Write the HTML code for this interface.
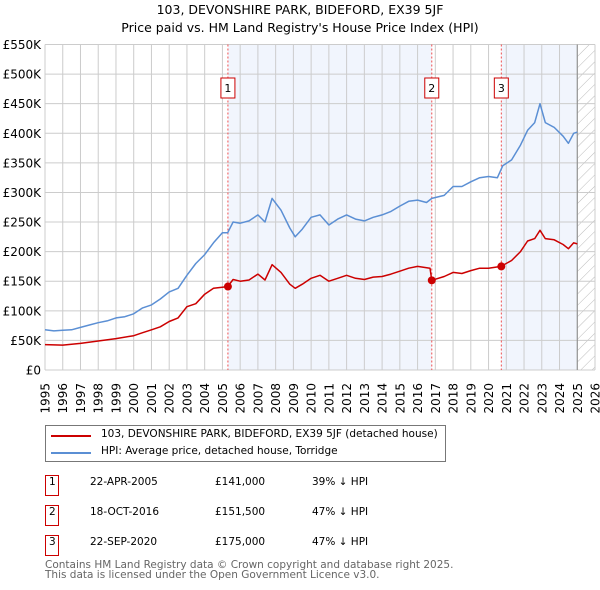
<!DOCTYPE html>
<html><head><meta charset="utf-8"><style>
body{margin:0;background:#fff;font-family:"DejaVu Sans","Liberation Sans",sans-serif;}
#wrap{position:relative;width:600px;height:590px;overflow:hidden}
.t{position:absolute;white-space:nowrap;color:#000}
</style></head><body>
<div id="wrap">
<div class="t" style="left:0;width:600px;text-align:center;top:2px;font-size:12.5px">103, DEVONSHIRE PARK, BIDEFORD, EX39 5JF</div>
<div class="t" style="left:0;width:600px;text-align:center;top:20px;font-size:12.5px">Price paid vs. HM Land Registry's House Price Index (HPI)</div>
<svg id="chart" width="600" height="420" style="position:absolute;left:0;top:0" font-family="DejaVu Sans, Liberation Sans, sans-serif"></svg>
<div style="position:absolute;left:45px;top:425px;width:399px;height:35px;border:1px solid #777">
 <div><div style="position:absolute;left:5px;top:9px;width:40px;height:2px;background:#cc0000"></div><div class="t" style="left:55px;top:2px;font-size:10.5px">103, DEVONSHIRE PARK, BIDEFORD, EX39 5JF (detached house)</div></div>
 <div><div style="position:absolute;left:5px;top:26px;width:40px;height:2px;background:#5b8fd4"></div><div class="t" style="left:55px;top:19px;font-size:10.5px">HPI: Average price, detached house, Torridge</div></div>
</div>
<div id="tbl"></div>
<div class="t" style="left:45px;top:560px;font-size:10.5px;color:#666;line-height:10px">Contains HM Land Registry data © Crown copyright and database right 2025.<br>This data is licensed under the Open Government Licence v3.0.</div>
</div>
<script>
const hpiX=[1995,1995.5,1996,1996.5,1997,1997.5,1998,1998.5,1999,1999.5,2000,2000.5,2001,2001.5,2002,2002.5,2003,2003.5,2004,2004.5,2005,2005.3,2005.6,2006,2006.5,2007,2007.4,2007.8,2008.3,2008.8,2009.1,2009.5,2010,2010.5,2011,2011.5,2012,2012.5,2013,2013.5,2014,2014.5,2015,2015.5,2016,2016.5,2016.8,2017.5,2018,2018.5,2019,2019.5,2020,2020.5,2020.8,2021.3,2021.8,2022.2,2022.6,2022.9,2023.2,2023.7,2024.2,2024.5,2024.8,2025.0];
const hpiY=[68,66,67,68,72,76,80,83,88,90,95,105,110,120,132,138,160,180,195,215,232,232,250,248,252,262,250,290,270,240,225,238,258,262,245,255,262,255,252,258,262,268,277,285,287,283,290,295,310,310,318,325,327,325,345,355,380,405,418,450,418,410,395,383,400,402];
const redX=[1995,1996,1997,1998,1999,2000,2000.5,2001,2001.5,2002,2002.5,2003,2003.5,2004,2004.5,2005.3,2005.6,2006,2006.5,2007,2007.4,2007.8,2008.3,2008.8,2009.1,2009.5,2010,2010.5,2011,2011.5,2012,2012.5,2013,2013.5,2014,2014.5,2015,2015.5,2016,2016.7,2016.8,2017.5,2018,2018.5,2019,2019.5,2020,2020.7,2021.3,2021.8,2022.2,2022.6,2022.9,2023.2,2023.7,2024.2,2024.5,2024.8,2025.0];
const redY=[43,42,45,49,53,58,63,68,73,82,88,107,112,128,138,141,153,150,152,162,152,178,165,145,138,145,155,160,150,155,160,155,153,157,158,162,167,172,175,172,151.5,158,165,163,168,172,172,175,185,200,218,222,236,222,220,212,205,215,213];
const saleX=[2005.31,2016.8,2020.72];
const saleY=[141,151.5,175];
const saleLabels=["1","2","3"];
const saleDates=["22-APR-2005","18-OCT-2016","22-SEP-2020"];
const salePrices=["£141,000","£151,500","£175,000"];
const saleDiffs=["39% ↓ HPI","47% ↓ HPI","47% ↓ HPI"];
const yTicks=[0,50,100,150,200,250,300,350,400,450,500,550];
const yTickLabels=["£0","£50K","£100K","£150K","£200K","£250K","£300K","£350K","£400K","£450K","£500K","£550K"];
const years=[1995,1996,1997,1998,1999,2000,2001,2002,2003,2004,2005,2006,2007,2008,2009,2010,2011,2012,2013,2014,2015,2016,2017,2018,2019,2020,2021,2022,2023,2024,2025,2026];

const L=45,R=595,T=44.5,B=370;
const xs=v=>L+(v-1995)*(R-L)/31;
const ys=v=>B-v*(B-T)/550;
const svg=document.getElementById('chart');
const NS='http://www.w3.org/2000/svg';
function mk(tag,at,parent){const e=document.createElementNS(NS,tag);for(const k in at)e.setAttribute(k,at[k]);(parent||svg).appendChild(e);return e;}
const defs=mk('defs',{});
const pat=mk('pattern',{id:'hatch',width:8,height:8,patternUnits:'userSpaceOnUse',patternTransform:'rotate(45)'},defs);
mk('line',{x1:0,y1:0,x2:0,y2:8,stroke:'#bbb','stroke-width':1},pat);
let e=mk('rect',{x:xs(saleX[0]),y:T,width:xs(saleX[1])-xs(saleX[0]),height:B-T,fill:'#f1f5fd'});

e=mk('rect',{x:xs(saleX[2]),y:T,width:xs(2025.0)-xs(saleX[2]),height:B-T,fill:'#f1f5fd'});

e=mk('rect',{x:xs(2025.0),y:T,width:R-xs(2025.0),height:B-T,fill:'url(#hatch)'});

yTicks.forEach((v,i)=>{
 const g=mk('line',{x1:L,x2:R,y1:ys(v),y2:ys(v),stroke:'#ccc','stroke-width':1});
 
 const t=mk('text',{x:41,y:ys(v)+4.5,'text-anchor':'end','font-size':12,fill:'#000'});
 t.textContent=yTickLabels[i];
 
});
years.forEach(v=>{
 const g=mk('line',{x1:xs(v),x2:xs(v),y1:T,y2:B,stroke:'#ccc','stroke-width':1});
 
 const t=mk('text',{x:0,y:0,'text-anchor':'end','font-size':12,fill:'#000',transform:`translate(${xs(v)+4.5},383) rotate(-90)`});
 t.textContent=v;
 
});
e=mk('line',{x1:xs(2025.0),x2:xs(2025.0),y1:T,y2:B,stroke:'#888','stroke-width':1});

saleX.forEach((v,i)=>{
 const l=mk('line',{x1:xs(v),x2:xs(v),y1:T,y2:B,stroke:'#f05050','stroke-width':1,'stroke-dasharray':'2,2'});
 
 const r=mk('rect',{x:xs(v)-7,y:78,width:14,height:20,fill:'#fff',stroke:'#cc0000','stroke-width':1});
 
 const t=mk('text',{x:xs(v),y:92,'text-anchor':'middle','font-size':11,fill:'#000'});
 t.textContent=saleLabels[i];
 
});
function path(X,Y,c,n){const p=mk('path',{d:X.map((x,i)=>(i?'L':'M')+xs(x).toFixed(1)+','+ys(Y[i]).toFixed(1)).join(''),fill:'none',stroke:c,'stroke-width':1.5,'stroke-linejoin':'round'});}
path(hpiX,hpiY,'#5b8fd4','hpi-line');
path(redX,redY,'#cc0000','property-price-line');
saleX.forEach((v,i)=>{const c=mk('circle',{cx:xs(v),cy:ys(saleY[i]),r:4,fill:'#cc0000'});});
const tbl=document.getElementById('tbl');
saleLabels.forEach((s,i)=>{
 const top=475+i*30;
 const row=document.createElement('div');
 
 
 row.innerHTML=`<div style="position:absolute;left:45px;top:${top}px;width:12px;height:19px;border:1px solid #cc0000"></div><div class="t" style="left:49px;top:${top+1}px;font-size:10.5px">${s}</div><div class="t" style="left:90px;width:67px;text-align:right;top:${top+1}px;font-size:10.5px">${saleDates[i]}</div><div class="t" style="left:215px;top:${top+1}px;font-size:10.5px">${salePrices[i]}</div><div class="t" style="left:312px;top:${top+1}px;font-size:10.5px">${saleDiffs[i]}</div>`;
 tbl.appendChild(row);
});
</script>
</body></html>
